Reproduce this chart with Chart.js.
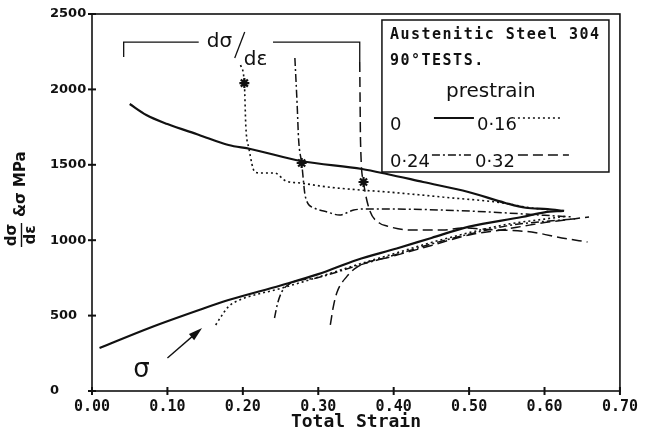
<!DOCTYPE html>
<html>
<head>
<meta charset="utf-8">
<script src="https://cdn.jsdelivr.net/npm/chart.js@4.4.1/dist/chart.umd.min.js"></script>
<style>
    html, body { margin: 0; padding: 0; background: #ffffff; }
    #wrap { width: 645px; height: 434px; }
</style>
</head>
<body>
<div id="wrap"><canvas id="strain-chart"></canvas></div>
<script>
"use strict";

// Austenitic steel 304, 90 degree tests: dσ/dε and σ against total strain.

// Tangent modulus curves (dσ/dε), one per prestrain.
const slope0X = [0.050, 0.072, 0.100, 0.142, 0.181, 0.210, 0.277, 0.358, 0.391, 0.439, 0.499, 0.548, 0.575, 0.604, 0.626];
const slope0Y = [1903, 1830, 1770, 1698, 1631, 1605, 1525, 1472, 1439, 1386, 1320, 1247, 1215, 1207, 1194];

const slope16X = [0.197, 0.202, 0.204, 0.208, 0.216, 0.224, 0.242, 0.257, 0.277, 0.312, 0.355, 0.391, 0.465, 0.545, 0.580, 0.605];
const slope16Y = [2162, 2042, 1750, 1611, 1452, 1446, 1446, 1393, 1379, 1353, 1333, 1320, 1286, 1247, 1215, 1203];

const slope24X = [0.269, 0.272, 0.274, 0.278, 0.283, 0.295, 0.312, 0.328, 0.347, 0.364, 0.391, 0.465, 0.552, 0.600, 0.635];
const slope24Y = [2208, 1900, 1664, 1512, 1286, 1213, 1187, 1167, 1200, 1207, 1207, 1200, 1180, 1165, 1155];

const slope32X = [0.355, 0.3555, 0.356, 0.360, 0.368, 0.381, 0.391, 0.421, 0.465, 0.491, 0.530, 0.583, 0.623, 0.657];
const slope32Y = [2182, 1900, 1664, 1386, 1200, 1114, 1094, 1068, 1068, 1081, 1070, 1054, 1015, 988];

// Stress curves (σ), one per prestrain.
const stress0X = [0.010, 0.076, 0.142, 0.181, 0.250, 0.300, 0.351, 0.404, 0.450, 0.500, 0.570, 0.600, 0.625];
const stress0Y = [285, 418, 537, 603, 700, 775, 869, 945, 1015, 1090, 1154, 1185, 1195];

const stress16X = [0.164, 0.172, 0.181, 0.194, 0.250, 0.300, 0.350, 0.400, 0.450, 0.500, 0.550, 0.600, 0.630];
const stress16Y = [438, 500, 560, 600, 680, 755, 835, 910, 985, 1050, 1105, 1140, 1160];

const stress24X = [0.242, 0.246, 0.252, 0.262, 0.300, 0.350, 0.400, 0.450, 0.500, 0.550, 0.600, 0.640];
const stress24Y = [484, 580, 660, 710, 752, 828, 900, 975, 1040, 1095, 1125, 1140];

const stress32X = [0.316, 0.320, 0.325, 0.338, 0.351, 0.400, 0.450, 0.500, 0.545, 0.580, 0.605, 0.659];
const stress32Y = [438, 560, 656, 760, 820, 895, 965, 1035, 1070, 1100, 1120, 1154];

// Starred points on the dσ/dε curves.
const starX = [0.202, 0.278, 0.360];
const starY = [2042, 1512, 1386];

// Axis ranges and ticks.
const xMin = 0, xMax = 0.7, xStep = 0.1;
const yMin = 0, yMax = 2500, yStep = 500;

// Annotation positions in data units.
const bracketLeft = 0.042, bracketRight = 0.355, bracketY = 2314, bracketLegY = 2215;
const bracketGapLeft = 0.1415, bracketGapRight = 0.240;
const arrowFrom = { x: 0.100, y: 219 };
const arrowTo = { x: 0.146, y: 418 };

const ink = "#111111";
const styles = {
    solid: { dash: [], width: 2.2 },
    dotted: { dash: [2, 3], width: 1.6 },
    dashDot: { dash: [8, 3, 2, 3], width: 1.5 },
    longDash: { dash: [10, 5], width: 1.5 }
};

function toPoints(xs, ys) {
    return xs.map((x, i) => ({ x: x, y: ys[i] }));
}

function lineSet(label, xs, ys, style) {
    return {
        label: label,
        data: toPoints(xs, ys),
        showLine: true,
        borderColor: ink,
        borderWidth: style.width,
        borderDash: style.dash,
        pointRadius: 0,
        cubicInterpolationMode: "monotone",
        fill: false
    };
}

// Frame on all four sides with ticks that cross the axes.
const frameTicks = {
    id: "frameTicks",
    afterDraw(chart) {
        const ctx = chart.ctx;
        const a = chart.chartArea;
        const xs = chart.scales.x;
        const ys = chart.scales.y;
        ctx.save();
        ctx.strokeStyle = ink;
        ctx.lineWidth = 1.6;
        ctx.strokeRect(a.left, a.top, a.right - a.left, a.bottom - a.top);
        ctx.lineWidth = 2;
        xs.ticks.forEach((t) => {
            const px = xs.getPixelForValue(t.value);
            ctx.beginPath();
            ctx.moveTo(px, a.bottom - 4);
            ctx.lineTo(px, a.bottom + 4);
            ctx.stroke();
        });
        ys.ticks.forEach((t) => {
            const py = ys.getPixelForValue(t.value);
            ctx.beginPath();
            ctx.moveTo(a.left - 4, py);
            ctx.lineTo(a.left + 4, py);
            ctx.stroke();
        });
        ctx.restore();
    }
};

// Bracket with the dσ/dε label, the σ arrow and the y axis title.
const notes = {
    id: "notes",
    afterDraw(chart) {
        const ctx = chart.ctx;
        const xs = chart.scales.x;
        const ys = chart.scales.y;
        const px = (v) => xs.getPixelForValue(v);
        const py = (v) => ys.getPixelForValue(v);

        ctx.save();
        ctx.strokeStyle = ink;
        ctx.fillStyle = ink;
        ctx.lineWidth = 1.3;

        ctx.beginPath();
        ctx.moveTo(px(bracketLeft), py(bracketLegY));
        ctx.lineTo(px(bracketLeft), py(bracketY));
        ctx.lineTo(px(bracketGapLeft), py(bracketY));
        ctx.moveTo(px(bracketGapRight), py(bracketY));
        ctx.lineTo(px(bracketRight), py(bracketY));
        ctx.lineTo(px(bracketRight), py(slope32Y[0]));
        ctx.stroke();

        const gx = px(bracketGapLeft);
        const gy = py(bracketY);
        ctx.font = "20px 'DejaVu Sans'";
        ctx.textBaseline = "alphabetic";
        ctx.textAlign = "left";
        ctx.fillText("dσ", gx + 8, gy + 5);
        ctx.beginPath();
        ctx.moveTo(gx + 46, gy - 10);
        ctx.lineTo(gx + 36, gy + 16);
        ctx.stroke();
        ctx.fillText("dε", gx + 45, gy + 23);

        // Arrow pointing at the σ curves.
        const x1 = px(arrowFrom.x), y1 = py(arrowFrom.y);
        const x2 = px(arrowTo.x), y2 = py(arrowTo.y);
        const ang = Math.atan2(y2 - y1, x2 - x1);
        ctx.lineWidth = 1.4;
        ctx.beginPath();
        ctx.moveTo(x1, y1);
        ctx.lineTo(x2 - 6 * Math.cos(ang), y2 - 6 * Math.sin(ang));
        ctx.stroke();
        ctx.beginPath();
        ctx.moveTo(x2, y2);
        ctx.lineTo(x2 - 14 * Math.cos(ang) + 4 * Math.sin(ang), y2 - 14 * Math.sin(ang) - 4 * Math.cos(ang));
        ctx.lineTo(x2 - 14 * Math.cos(ang) - 4 * Math.sin(ang), y2 - 14 * Math.sin(ang) + 4 * Math.cos(ang));
        ctx.closePath();
        ctx.fill();

        ctx.font = "26px 'DejaVu Sans'";
        ctx.textAlign = "center";
        ctx.textBaseline = "middle";
        ctx.fillText("σ", x1 - 26, y1 + 12);

        // Y axis title: the fraction dσ/dε followed by & σ MPa.
        ctx.translate(21, 193);
        ctx.rotate(-Math.PI / 2);
        ctx.font = "bold 15px 'DejaVu Sans'";
        ctx.textAlign = "center";
        ctx.textBaseline = "middle";
        ctx.fillText("dσ", -42, -9);
        ctx.fillText("dε", -42, 10);
        ctx.lineWidth = 1.4;
        ctx.beginPath();
        ctx.moveTo(-54, 0.5);
        ctx.lineTo(-30, 0.5);
        ctx.stroke();
        ctx.textAlign = "left";
        ctx.fillText("&σ MPa", -24, 0);
        ctx.restore();
    }
};

// Legend box in the top right of the plot.
const legendBox = {
    id: "legendBox",
    afterDraw(chart) {
        const ctx = chart.ctx;
        const a = chart.chartArea;
        const left = a.right - 238, top = a.top + 6, right = a.right - 11, bottom = a.top + 158;
        ctx.save();
        ctx.fillStyle = "#ffffff";
        ctx.fillRect(left, top, right - left, bottom - top);
        ctx.strokeStyle = ink;
        ctx.lineWidth = 1.5;
        ctx.strokeRect(left, top, right - left, bottom - top);

        ctx.fillStyle = ink;
        ctx.textAlign = "left";
        ctx.textBaseline = "alphabetic";
        ctx.font = "bold 15px 'DejaVu Sans Mono'";
        ctx.letterSpacing = "1.5px";
        ctx.fillText("Austenitic Steel 304", left + 8, top + 19);
        ctx.fillText("90°TESTS.", left + 8, top + 45);
        ctx.letterSpacing = "0px";

        ctx.font = "20px 'DejaVu Sans'";
        ctx.fillText("prestrain", left + 64, top + 77);

        ctx.font = "18px 'DejaVu Sans'";
        ctx.fillText("0", left + 8, top + 110);
        ctx.fillText("0·16", left + 95, top + 110);
        ctx.fillText("0·24", left + 8, top + 147);
        ctx.fillText("0·32", left + 93, top + 147);

        const sample = (x1, x2, y, style) => {
            ctx.setLineDash(style.dash);
            ctx.lineWidth = style.width;
            ctx.beginPath();
            ctx.moveTo(x1, y);
            ctx.lineTo(x2, y);
            ctx.stroke();
        };
        sample(left + 52, left + 92, top + 98, styles.solid);
        sample(left + 136, left + 181, top + 98, styles.dotted);
        sample(left + 50, left + 89, top + 135, styles.dashDot);
        sample(left + 136, left + 187, top + 135, styles.longDash);
        ctx.restore();
    }
};

const datasets = [
    lineSet("σ 0", stress0X, stress0Y, styles.solid),
    lineSet("σ 0.16", stress16X, stress16Y, styles.dotted),
    lineSet("σ 0.24", stress24X, stress24Y, styles.dashDot),
    lineSet("σ 0.32", stress32X, stress32Y, styles.longDash),
    lineSet("dσ/dε 0", slope0X, slope0Y, styles.solid),
    lineSet("dσ/dε 0.16", slope16X, slope16Y, styles.dotted),
    lineSet("dσ/dε 0.24", slope24X, slope24Y, styles.dashDot),
    lineSet("dσ/dε 0.32", slope32X, slope32Y, styles.longDash),
    {
        label: "marked",
        data: toPoints(starX, starY),
        showLine: false,
        pointStyle: "star",
        pointRadius: 5,
        borderWidth: 2.2,
        borderColor: ink,
        backgroundColor: ink
    }
];

new Chart(document.getElementById("strain-chart"), {
    type: "scatter",
    data: { datasets: datasets },
    options: {
        responsive: true,
        maintainAspectRatio: false,
        animation: false,
        events: [],
        layout: { padding: { left: 50, top: 14, right: 19, bottom: 0 } },
        scales: {
            x: {
                type: "linear",
                min: xMin,
                max: xMax,
                afterFit(scale) { scale.height = 43; },
                ticks: {
                    stepSize: xStep,
                    color: ink,
                    padding: 7,
                    font: { family: "'DejaVu Sans Mono'", weight: "bold", size: 15 },
                    callback: (v) => Number(v).toFixed(2)
                },
                grid: { display: false, drawTicks: false },
                border: { display: false },
                title: {
                    display: true,
                    text: "Total Strain",
                    color: ink,
                    padding: { top: 0, bottom: 1 },
                    font: { family: "'DejaVu Sans Mono'", weight: "bold", size: 18 }
                }
            },
            y: {
                type: "linear",
                min: yMin,
                max: yMax,
                afterFit(scale) { scale.width = 42; },
                ticks: {
                    stepSize: yStep,
                    color: ink,
                    crossAlign: "far",
                    font: { family: "'DejaVu Sans'", weight: "bold", size: 13 },
                    callback: (v) => String(v)
                },
                grid: { display: false, drawTicks: false },
                border: { display: false }
            }
        },
        plugins: {
            legend: { display: false },
            tooltip: { enabled: false }
        }
    },
    plugins: [frameTicks, notes, legendBox]
});
</script>
</body>
</html>
